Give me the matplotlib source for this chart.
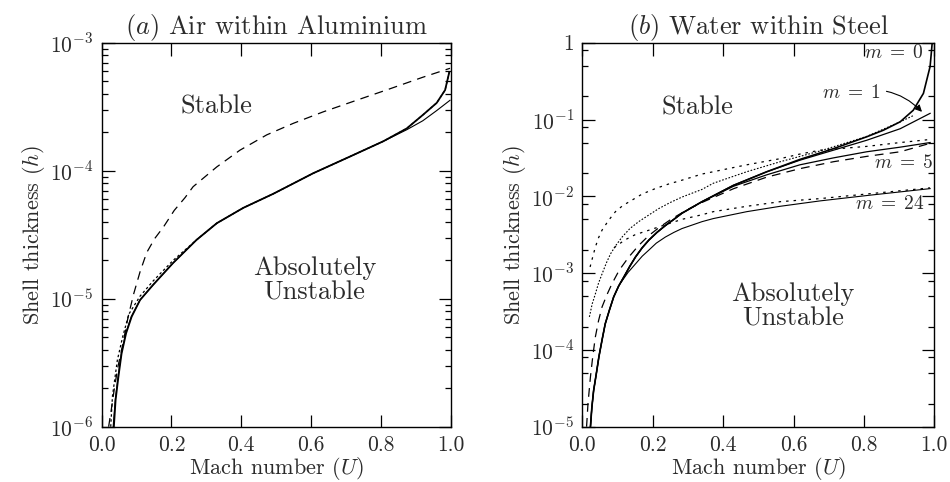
import numpy as np
import matplotlib
matplotlib.use('Agg')
from matplotlib import pyplot as plt
from matplotlib.ticker import LogLocator, FuncFormatter, MultipleLocator

plt.rcParams['font.family'] = 'serif'
plt.rcParams['font.serif'] = ['cmr10', 'DejaVu Serif']
plt.rcParams['mathtext.fontset'] = 'cm'
plt.rcParams['axes.formatter.use_mathtext'] = True
plt.rcParams['axes.unicode_minus'] = False

# ---- (a) air within aluminium: U and log10(h)
a_dash_u = [0.020, 0.028, 0.036, 0.046, 0.061, 0.076, 0.092, 0.11, 0.129, 0.152, 0.177, 0.208,
            0.239, 0.262, 0.33, 0.396, 0.473, 0.549, 0.635, 0.73, 0.826, 0.92, 0.998]
a_dash_h = [-6.0, -5.86, -5.71, -5.54, -5.35, -5.14, -4.96, -4.79, -4.64, -4.53, -4.44, -4.31,
            -4.21, -4.125, -3.97, -3.84, -3.72, -3.63, -3.54, -3.45, -3.36, -3.27, -3.20]

a_solid_u = [0.035, 0.040, 0.048, 0.057, 0.070, 0.086, 0.11, 0.148, 0.205, 0.272, 0.33, 0.406,
             0.492, 0.606, 0.711, 0.807, 0.874, 0.92, 0.96, 0.984, 0.996]
a_solid_h = [-6.0, -5.79, -5.61, -5.43, -5.27, -5.14, -5.01, -4.89, -4.72, -4.54, -4.41, -4.29,
             -4.18, -4.02, -3.89, -3.77, -3.67, -3.565, -3.47, -3.37, -3.23]

a_thin_u = [0.033, 0.039, 0.047, 0.056, 0.069, 0.085, 0.11, 0.148, 0.205, 0.272, 0.33, 0.406,
            0.492, 0.606, 0.711, 0.807, 0.874, 0.92, 0.96, 0.998]
a_thin_h = [-6.0, -5.79, -5.61, -5.43, -5.27, -5.14, -5.01, -4.89, -4.72, -4.54, -4.41, -4.29,
            -4.18, -4.02, -3.89, -3.77, -3.68, -3.61, -3.53, -3.45]

a_dot_u = [0.026, 0.031, 0.045, 0.06, 0.078, 0.11, 0.148, 0.205, 0.272, 0.33, 0.406, 0.492,
           0.606, 0.711, 0.807, 0.874, 0.92, 0.96, 0.984, 0.996]
a_dot_h = [-6.0, -5.76, -5.48, -5.3, -5.12, -4.98, -4.86, -4.70, -4.54, -4.41, -4.29, -4.18,
           -4.02, -3.89, -3.77, -3.67, -3.565, -3.47, -3.37, -3.23]

# ---- (b) water within steel
b_low_u = [0.023, 0.027, 0.032, 0.04, 0.047, 0.056, 0.065, 0.077, 0.089, 0.103, 0.118, 0.135,
           0.151, 0.17, 0.189, 0.212, 0.236, 0.26, 0.283, 0.34]
b_low_h = [-5.0, -4.75, -4.53, -4.3, -4.09, -3.87, -3.66, -3.48, -3.31, -3.17, -3.05, -2.91,
           -2.79, -2.67, -2.57, -2.47, -2.38, -2.30, -2.22, -2.07]

m0_u = b_low_u + [0.429, 0.524, 0.618, 0.713, 0.808, 0.855, 0.903, 0.94, 0.969, 0.988, 0.994]
m0_h = b_low_h + [-1.86, -1.68, -1.52, -1.38, -1.225, -1.14, -1.03, -0.88, -0.66, -0.31, 0.0]

m1_u = b_low_u + [0.429, 0.524, 0.618, 0.713, 0.808, 0.903, 0.988]
m1_h = b_low_h + [-1.855, -1.68, -1.53, -1.40, -1.27, -1.12, -0.92]

m5_u = b_low_u + [0.429, 0.524, 0.618, 0.713, 0.808, 0.903, 0.988]
m5_h = b_low_h + [-1.87, -1.72, -1.59, -1.50, -1.42, -1.36, -1.30]

m24_u = [0.11, 0.13, 0.151, 0.17, 0.189, 0.21, 0.236, 0.26, 0.283, 0.34, 0.372, 0.467,
         0.562, 0.675, 0.808, 0.988]
m24_h = [-3.12, -2.99, -2.88, -2.78, -2.70, -2.61, -2.53, -2.47, -2.42, -2.33, -2.29, -2.20,
         -2.13, -2.06, -1.99, -1.90]

b_dash_u = [0.012, 0.016, 0.023, 0.03, 0.037, 0.046, 0.056, 0.07, 0.084, 0.105, 0.132, 0.16,
            0.189, 0.22, 0.255, 0.3, 0.34, 0.43, 0.524, 0.618, 0.713, 0.808, 0.903, 0.988]
b_dash_h = [-5.0, -4.7, -4.35, -4.07, -3.83, -3.62, -3.44, -3.28, -3.14, -2.96, -2.79, -2.64,
            -2.51, -2.40, -2.29, -2.17, -2.08, -1.90, -1.75, -1.64, -1.55, -1.48, -1.42, -1.31]

b_fdot_u = [0.02, 0.028, 0.037, 0.046, 0.056, 0.068, 0.08, 0.095, 0.113, 0.135, 0.16, 0.19,
            0.217, 0.25, 0.283, 0.34, 0.372, 0.467, 0.562, 0.675, 0.808, 0.903, 0.94]
b_fdot_h = [-3.57, -3.4, -3.27, -3.13, -3.01, -2.87, -2.75, -2.64, -2.53, -2.42, -2.33, -2.24,
            -2.16, -2.08, -2.01, -1.91, -1.83, -1.68, -1.55, -1.41, -1.22, -1.03, -0.95]

b_sdot_u = [0.022, 0.03, 0.037, 0.046, 0.056, 0.075, 0.094, 0.115, 0.141, 0.17, 0.207, 0.245,
            0.283, 0.34, 0.372, 0.467, 0.562, 0.618, 0.675, 0.808, 0.903, 0.988]
b_sdot_h = [-2.92, -2.78, -2.66, -2.54, -2.44, -2.31, -2.20, -2.12, -2.05, -1.97, -1.90, -1.84,
            -1.79, -1.71, -1.68, -1.59, -1.51, -1.45, -1.40, -1.35, -1.30, -1.26]

m24_dot_u = [0.09, 0.12, 0.15, 0.19, 0.236, 0.283, 0.34, 0.372, 0.467, 0.562, 0.675, 0.808, 0.988]
m24_dot_h = [-2.67, -2.57, -2.50, -2.44, -2.37, -2.30, -2.24, -2.20, -2.13, -2.07, -2.03, -1.97, -1.89]

TXT = '#2b2b2b'


def pw(vals):
    return 10.0 ** np.array(vals)


def style_axes(ax, lo, hi, subs):
    ax.set_yscale('log')
    ax.set_xlim(0, 1)
    ax.set_ylim(10.0 ** lo, 10.0 ** hi)
    ax.xaxis.set_major_locator(MultipleLocator(0.2))
    ax.xaxis.set_major_formatter(FuncFormatter(lambda v, p: '%.1f' % v))
    ax.yaxis.set_major_locator(LogLocator(base=10, numticks=20))
    ax.yaxis.set_minor_locator(LogLocator(base=10, subs=subs, numticks=20))

    def fmt(v, p):
        e = int(round(np.log10(v)))
        return '$1$' if e == 0 else '$10^{%d}$' % e
    ax.yaxis.set_major_formatter(FuncFormatter(fmt))
    ax.tick_params(which='both', direction='in', top=True, right=True, colors='black',
                   labelcolor=TXT, labelsize=15.5, width=0.9)
    ax.tick_params(which='major', length=9, pad=6)
    ax.tick_params(which='minor', length=4.5)
    for s in ax.spines.values():
        s.set_linewidth(1.0)
    ax.set_xlabel(r'Mach number $(U)$', fontsize=16, color=TXT, labelpad=0)
    ax.set_ylabel(r'Shell thickness $(h)$', fontsize=16, color=TXT, labelpad=2)


fig = plt.figure(figsize=(9.5, 4.82), dpi=100)
ax1 = fig.add_axes([0.107, 0.1147, 0.3674, 0.7967])
ax2 = fig.add_axes([0.613, 0.1147, 0.3705, 0.7967])

# panel (a)
ax1.plot(a_dash_u, pw(a_dash_h), color='black', lw=0.9, dashes=(7, 5))
ax1.plot(a_dot_u, pw(a_dot_h), color='black', lw=0.9, dashes=(2, 2))
ax1.plot(a_thin_u, pw(a_thin_h), color='black', lw=0.8)
ax1.plot(a_solid_u, pw(a_solid_h), color='black', lw=1.3)
style_axes(ax1, -6, -3, [2, 3, 4, 5, 6, 7, 8, 9])
ax1.set_title(r'$(a)$ Air within Aluminium', fontsize=19, color=TXT, pad=6)
ax1.text(0.33, 10 ** -3.5, 'Stable', fontsize=19, color=TXT, ha='center', va='center')
ax1.text(0.61, 10 ** -4.86, 'Absolutely\nUnstable', fontsize=19, color=TXT,
         ha='center', va='center', linespacing=1.05)

# panel (b)
ax2.plot(b_dash_u, pw(b_dash_h), color='black', lw=0.9, dashes=(7, 5))
ax2.plot(b_fdot_u, pw(b_fdot_h), color='black', lw=0.8, dashes=(1.5, 1.5))
ax2.plot(b_sdot_u, pw(b_sdot_h), color='black', lw=0.9, dashes=(2, 4))
ax2.plot(m24_dot_u, pw(m24_dot_h), color='black', lw=0.9, dashes=(2, 4))
ax2.plot(m24_u, pw(m24_h), color='black', lw=0.8)
ax2.plot(m5_u, pw(m5_h), color='black', lw=0.9)
ax2.plot(m1_u, pw(m1_h), color='black', lw=0.9)
ax2.plot(m0_u, pw(m0_h), color='black', lw=1.2)
style_axes(ax2, -5, 0, [2, 5, 8])
ax2.set_title(r'$(b)$ Water within Steel', fontsize=19, color=TXT, pad=6)
ax2.text(0.328, 10 ** -0.84, 'Stable', fontsize=19, color=TXT, ha='center', va='center')
ax2.text(0.598, 10 ** -3.43, 'Absolutely\nUnstable', fontsize=19, color=TXT,
         ha='center', va='center', linespacing=1.05)

ax2.text(0.884, 10 ** -0.14, r'$m\;=\;0$', fontsize=14, color=TXT, ha='center', va='center')
ax2.text(0.914, 10 ** -1.57, r'$m\;=\;5$', fontsize=14, color=TXT, ha='center', va='center')
ax2.text(0.874, 10 ** -2.10, r'$m\;=\;24$', fontsize=14, color=TXT, ha='center', va='center')
ax2.annotate(r'$m\;=\;1$', xy=(0.965, 10 ** -0.9), xytext=(0.765, 10 ** -0.66),
             fontsize=14, color=TXT, ha='center', va='center',
             arrowprops=dict(arrowstyle='-|>', color='black', lw=0.8,
                             connectionstyle='arc3,rad=-0.3', shrinkA=2, shrinkB=0,
                             mutation_scale=10))

fig.savefig('out.png', dpi=100)
